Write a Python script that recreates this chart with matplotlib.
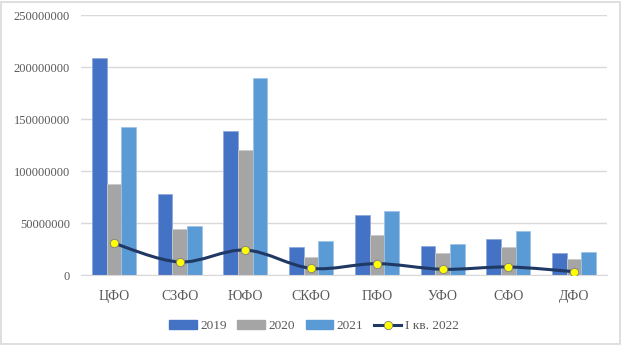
import numpy as np
import matplotlib
matplotlib.use("Agg")
import matplotlib.pyplot as plt
from matplotlib.path import Path
from matplotlib.patches import PathPatch, Rectangle
from matplotlib.lines import Line2D

plt.rcParams['font.family'] = ['Liberation Serif', 'DejaVu Serif']

districts = ["ЦФО", "СЗФО", "ЮФО", "СКФО", "ПФО", "УФО", "СФО", "ДФО"]
v2019 = [209000000, 77600000, 138800000, 27200000, 57400000, 28200000, 34600000, 21200000]
v2020 = [87500000, 44200000, 120500000, 17300000, 38500000, 21200000, 26600000, 15400000]
v2021 = [142600000, 46800000, 189700000, 32700000, 61200000, 29800000, 42600000, 21800000]
q1_2022 = [30500000, 12500000, 24000000, 6400000, 10900000, 5500000, 7700000, 3200000]
yticks = [0, 50000000, 100000000, 150000000, 200000000, 250000000]

c2019, c2020, c2021 = "#4472C4", "#A5A5A5", "#5B9BD5"
cline = "#203864"

fig = plt.figure(figsize=(6.22, 3.45), dpi=100)
ax = fig.add_axes([81/622, 70/345, 526/622, 260/345])

x = np.arange(len(districts))
w = 0.222
ax.bar(x - w, v2019, w, color=c2019, edgecolor="#8FAADC", linewidth=0.6, label="2019", zorder=2)
ax.bar(x, v2020, w, color=c2020, edgecolor="#C9C9C9", linewidth=0.6, label="2020", zorder=2)
ax.bar(x + w, v2021, w, color=c2021, edgecolor="#9DC3E6", linewidth=0.6, label="2021", zorder=2)

# smoothed line (Catmull-Rom style Bezier through the data points)
px = x.astype(float)
py = np.array(q1_2022, dtype=float)
verts = [(px[0], py[0])]
codes = [Path.MOVETO]
n = len(px)
t = 1 / 6
for i in range(n - 1):
    p0 = (px[i - 1], py[i - 1]) if i > 0 else (px[i], py[i])
    p1 = (px[i], py[i])
    p2 = (px[i + 1], py[i + 1])
    p3 = (px[i + 2], py[i + 2]) if i + 2 < n else p2
    c1 = (p1[0] + (p2[0] - p0[0]) * t, p1[1] + (p2[1] - p0[1]) * t)
    c2 = (p2[0] - (p3[0] - p1[0]) * t, p2[1] - (p3[1] - p1[1]) * t)
    verts += [c1, c2, p2]
    codes += [Path.CURVE4] * 3
ax.add_patch(PathPatch(Path(verts, codes), facecolor="none", edgecolor=cline, lw=2.2, zorder=3))
ax.plot(px, py, linestyle="none", marker="o", ms=6, mfc="#FFFF00", mec="#7F7F7F", mew=0.6, zorder=4)

ax.set_xlim(-0.5, len(districts) - 0.5)
ax.set_ylim(0, 250000000)
ax.set_yticks(yticks)
ax.set_yticklabels([str(v) for v in yticks])
ax.set_xticks(x)
ax.set_xticklabels(districts)
ax.tick_params(axis="y", length=0, pad=8, labelsize=9, labelcolor="#595959")
ax.tick_params(axis="x", length=0, pad=11, labelsize=10, labelcolor="#595959")
ax.grid(axis="y", color="#D9D9D9", lw=1, zorder=0)
ax.set_axisbelow(True)
for s in ["top", "right", "left"]:
    ax.spines[s].set_visible(False)
ax.spines["bottom"].set_color("#D9D9D9")

handles = [
    Rectangle((0, 0), 1, 1, color=c2019),
    Rectangle((0, 0), 1, 1, color=c2020),
    Rectangle((0, 0), 1, 1, color=c2021),
    Line2D([], [], color=cline, lw=2.2, marker="o", ms=6, mfc="#FFFF00", mec="#7F7F7F", mew=0.6),
]
fig.legend(handles, ["2019", "2020", "2021", "I кв. 2022"], loc="center", bbox_to_anchor=(314/622, 1 - 326/345),
           ncol=4, frameon=False, fontsize=9.5, handlelength=2.1, handleheight=0.6, handletextpad=0.25,
           columnspacing=0.8, labelcolor="#595959")

fig.add_artist(Rectangle((0.002, 0.003), 0.994, 0.992, transform=fig.transFigure, fill=False,
                         edgecolor="#D9D9D9", lw=1.2))

fig.savefig("out.png", dpi=100)
